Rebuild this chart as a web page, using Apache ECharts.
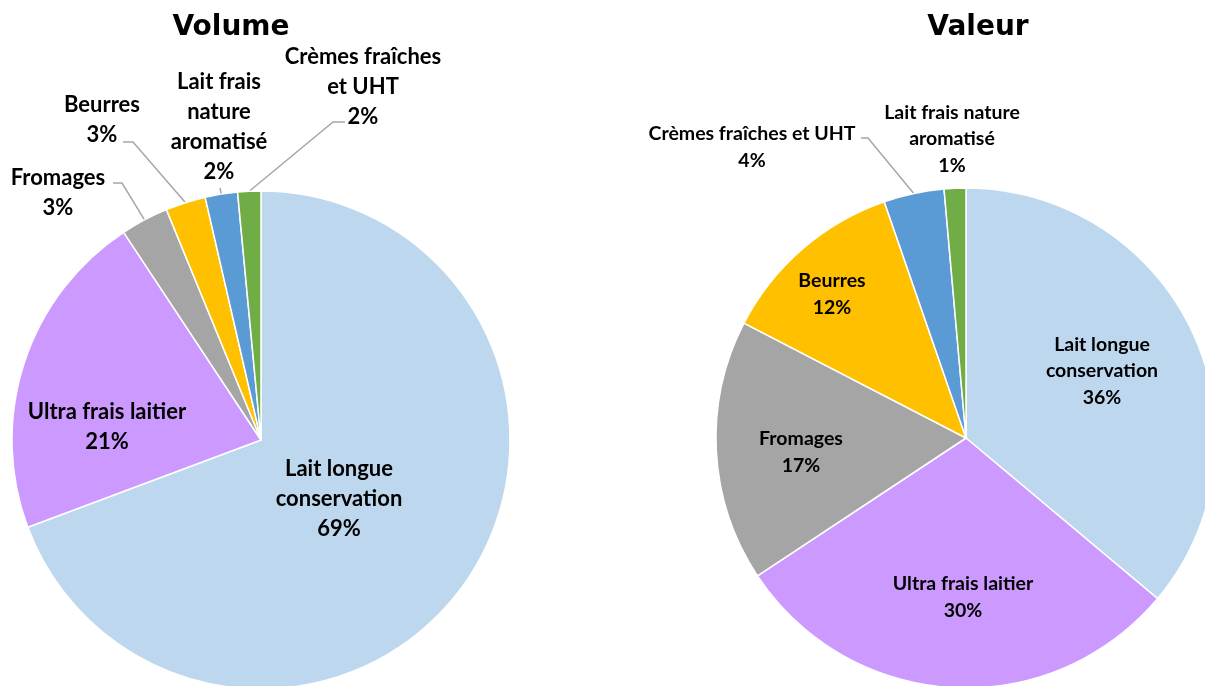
<!DOCTYPE html>
<html>
<head>
<meta charset="utf-8">
<script src="https://cdn.jsdelivr.net/npm/echarts@6/dist/echarts.min.js"></script>
<style>
	html, body { margin: 0; padding: 0; background: #fff; }
	/* taille fixe de la capture */
	#chart { width: 1205px; height: 686px; }
</style>
</head>
<body>
<div id="chart"></div>
<script>
	// données (en % du total)
	var volumeNames = ['Lait longue conservation', 'Ultra frais laitier', 'Fromages', 'Beurres', 'Lait frais nature aromatisé', 'Crèmes fraîches et UHT'];
	var volumeValues = [69.3, 21.4, 3.1, 2.6, 2.1, 1.5];
	var valeurNames = ['Lait longue conservation', 'Ultra frais laitier', 'Fromages', 'Beurres', 'Crèmes fraîches et UHT', 'Lait frais nature aromatisé'];
	var valeurValues = [36.1, 29.6, 16.9, 12.1, 3.9, 1.4];

	// libellés affichés, avec les retours à la ligne de l'original
	var volumeLabels = ['Lait longue\nconservation', 'Ultra frais laitier', 'Fromages', 'Beurres', 'Lait frais\nnature\naromatisé', 'Crèmes fraîches\net UHT'];
	var valeurLabels = ['Lait longue\nconservation', 'Ultra frais laitier', 'Fromages', 'Beurres', 'Crèmes fraîches et UHT', 'Lait frais nature\naromatisé'];

	var sliceColors = ['#BDD7EE', '#CC99FF', '#A5A5A5', '#FFC000', '#5B9BD5', '#70AD47'];

	// placement des étiquettes (centre du bloc de texte)
	var volumeLabelPos = [[339, 499], [107, 427], [58, 193], [102, 120], [219, 127], [363, 87]];
	var valeurLabelPos = [[1102, 371], [963, 597], [801, 452], [832, 294], [752, 147], [952, 139]];
	// trait de rappel : [coude, extrémité] relatifs au centre de l'étiquette
	var volumeLines = [null, null, [[64, -10], [55, -10]], [[31, 22], [21, 22]], [[1, 61], [1, 61]], [[-30, 35], [-18, 35]]];
	var valeurLines = [null, null, null, null, [[116, -9], [109, -9]], null];

	function buildData(names, values, lines, outside) {
		return values.map(function (v, i) {
			return {
				name: names[i],
				value: v,
				itemStyle: { color: sliceColors[i] },
				label: { position: outside[i] ? 'outside' : 'inside' },
				labelLine: { show: !!lines[i], lineStyle: { color: '#A6A6A6', width: 1.5 } }
			};
		});
	}

	function makeLayout(pos, lines) {
		return function (p) {
			var c = pos[p.dataIndex];
			var res = { x: c[0], y: c[1], align: 'center', verticalAlign: 'middle' };
			var l = lines[p.dataIndex];
			if (l && p.labelLinePoints) {
				res.labelLinePoints = [
					p.labelLinePoints[0],
					[c[0] + l[0][0], c[1] + l[0][1]],
					[c[0] + l[1][0], c[1] + l[1][1]]
				];
			}
			return res;
		};
	}

	function makeFormatter(labels) {
		return function (p) {
			return labels[p.dataIndex] + '\n' + Math.round(p.percent) + '%';
		};
	}

	var chart = echarts.init(document.getElementById('chart'));

	var option = {
		animation: false,
		title: [
			{
				text: 'Volume', left: 231, top: 14, textAlign: 'center', padding: 0,
				textStyle: { fontFamily: 'DejaVu Sans', fontWeight: 'bold', fontSize: 28, color: '#000' }
			},
			{
				text: 'Valeur', left: 978, top: 14, textAlign: 'center', padding: 0,
				textStyle: { fontFamily: 'DejaVu Sans', fontWeight: 'bold', fontSize: 28, color: '#000' }
			}
		],
		series: [
			{
				name: 'Volume',
				type: 'pie',
				center: [261, 440],
				radius: 249,
				startAngle: 90,
				clockwise: true,
				avoidLabelOverlap: false,
				itemStyle: { borderColor: '#fff', borderWidth: 1.5 },
				label: {
					formatter: makeFormatter(volumeLabels),
					fontFamily: 'Lato', fontWeight: 'bold', fontSize: 22, lineHeight: 30, color: '#000'
				},
				labelLayout: makeLayout(volumeLabelPos, volumeLines),
				data: buildData(volumeNames, volumeValues, volumeLines, [false, false, true, true, true, true])
			},
			{
				name: 'Valeur',
				type: 'pie',
				center: [966, 438],
				radius: 250,
				startAngle: 90,
				clockwise: true,
				avoidLabelOverlap: false,
				itemStyle: { borderColor: '#fff', borderWidth: 1.5 },
				label: {
					formatter: makeFormatter(valeurLabels),
					fontFamily: 'Lato', fontWeight: 'bold', fontSize: 19.5, lineHeight: 26.5, color: '#000'
				},
				labelLayout: makeLayout(valeurLabelPos, valeurLines),
				data: buildData(valeurNames, valeurValues, valeurLines, [false, false, false, false, true, true])
			}
		]
	};

	chart.setOption(option);
</script>
</body>
</html>
